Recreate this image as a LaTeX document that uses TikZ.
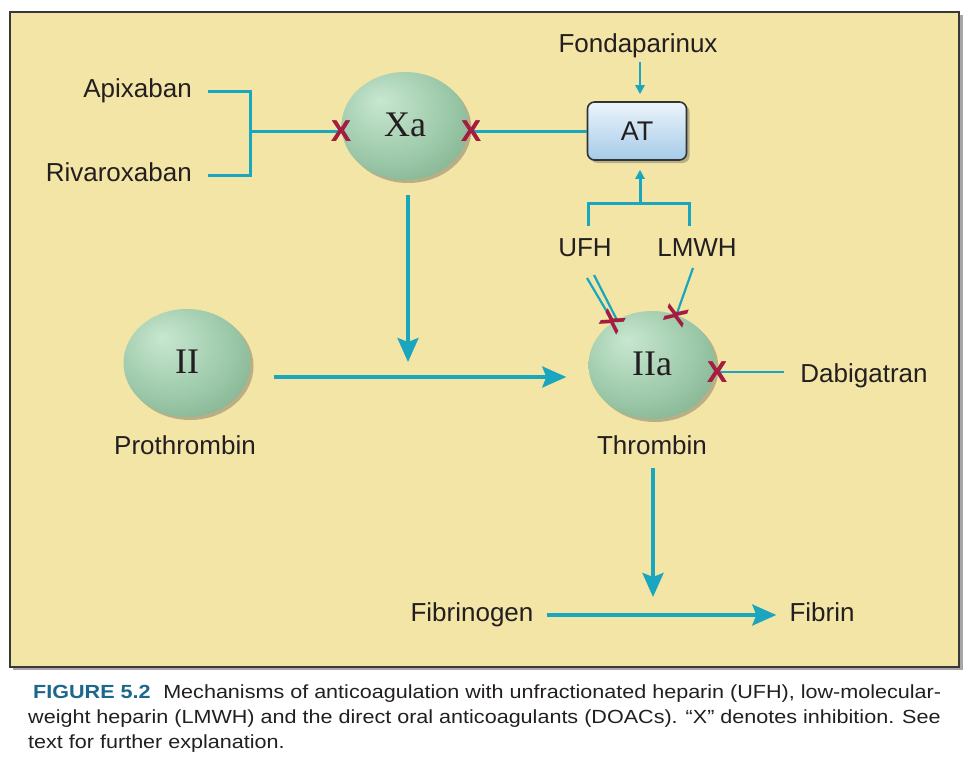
\documentclass[tikz,border=0pt]{standalone}
\usepackage{fontspec}
\setmainfont{Liberation Sans}
\newfontfamily\serifx{Liberation Serif}
\newfontfamily\capfont[FakeStretch=1.135]{Liberation Sans}
\usetikzlibrary{arrows.meta,shapes.geometric,shadows}
\definecolor{bgy}{RGB}{243,229,166}
\definecolor{tealc}{RGB}{26,166,190}
\definecolor{xred}{RGB}{165,28,65}
\definecolor{txt}{RGB}{35,31,32}
\definecolor{capblue}{RGB}{28,104,140}
\definecolor{gl}{RGB}{200,231,208}
\definecolor{gm}{RGB}{155,200,168}
\definecolor{gd}{RGB}{112,162,126}
\definecolor{atl}{RGB}{236,244,251}
\definecolor{atd}{RGB}{165,203,232}
\pgfdeclareradialshading{greenball}{\pgfpoint{-10bp}{12bp}}{color(0bp)=(gl); color(24bp)=(gm); color(46bp)=(gd); color(62bp)=(gd!85!black)}
\begin{document}
\begin{tikzpicture}[x=1pt,y=-1pt,
  lab/.style={font=\fontsize{26}{30}\selectfont, text=txt, inner sep=0pt, text height=18.7pt, text depth=5.5pt},
  enz/.style={ellipse, shading=greenball, inner sep=0pt, minimum width=127, minimum height=108,
     font=\serifx\fontsize{36}{40}\selectfont, text=txt, text height=24pt, text depth=4pt,
     drop shadow={shadow xshift=3pt, shadow yshift=-3pt, opacity=0.35, fill=black!70}},
  atbox/.style={rectangle, rounded corners=7, draw=black!80, line width=1.6, top color=atl, bottom color=atd,
     minimum width=99, minimum height=58, inner sep=0pt, font=\fontsize{27}{30}\selectfont, text=txt,
     drop shadow={shadow xshift=3pt, shadow yshift=-3pt, opacity=0.35, fill=black!70}},
  xm/.style={font=\bfseries\fontsize{30}{32}\selectfont, text=xred, inner sep=0pt},
  mainl/.style={draw=tealc, line width=3.6},
  medl/.style={draw=tealc, line width=3},
  thinl/.style={draw=tealc, line width=2.2},
  bigtip/.style={-{Stealth[length=24, width=21, inset=4]}},
  smalltip/.style={-{Triangle[length=9, width=9]}},
  captxt/.style={font=\capfont\fontsize{19}{24}\selectfont, text=txt, inner sep=0pt, anchor=base west}
]
\useasboundingbox (0,0) rectangle (973,760);
\fill[white] (0,0) rectangle (973,760);
% frame
\fill[black!35] (13,15) rectangle (963,670);
\draw[fill=bgy, draw=black!78, line width=2.6] (10,12) rectangle (959,667);

% enzymes
\node[enz] (xa) at (405,126) {Xa};
\node[enz] (ii) at (187,363) {II};
\node[enz] (iia) at (652,365) {IIa};
\node[atbox] (at) at (637,131) {AT};

% labels
\node[lab, anchor=east] (apix) at (192,91) {Apixaban};
\node[lab, anchor=east] (riva) at (192,175) {Rivaroxaban};
\node[lab] (fonda) at (638,46) {Fondaparinux};
\node[lab] (ufh) at (585,250) {UFH};
\node[lab] (lmwh) at (697,250) {LMWH};
\node[lab] (dabi) at (864,376) {Dabigatran};
\node[lab] (proth) at (185,448) {Prothrombin};
\node[lab] (thr) at (652,448) {Thrombin};
\node[lab] (fibg) at (472,615) {Fibrinogen};
\node[lab] (fib) at (822,615) {Fibrin};

% coordinates
\coordinate (brM) at (250,131);
\coordinate (bL) at (588,226);
\coordinate (bR) at (689,226);
\coordinate (bM) at (640,203);
\coordinate (atx) at (640,0);
\coordinate (meet) at (408,377);
\coordinate (fmeet) at (653,612);
\coordinate (u1) at (587,278);
\coordinate (u2) at (594,275);
\coordinate (l1) at (693,268);
\coordinate (dabl) at (784,372);
\coordinate (x3c) at (613,322);
\coordinate (x4c) at (676,316);

% Apixaban / Rivaroxaban bracket -> Xa
\node[xm] (x1) at (341,131) {X};
\node[xm] (x2) at (471,131) {X};
\draw[medl] ([xshift=16]apix.east) -| (brM) |- ([xshift=16]riva.east);
\draw[medl] (brM) -- (x1.center);
% Xa -- AT
\draw[medl] (x2.center) -- (at.west);
\node[xm] at (x1) {X};
\node[xm] at (x2) {X};
% Fondaparinux -> AT
\draw[thinl, smalltip, shorten <=4, shorten >=7] (fonda.south -| atx) -- (at.north -| atx);
% UFH / LMWH bracket -> AT
\draw[medl] (bL) |- (bM) -| (bR);
\draw[medl, smalltip, shorten >=9] (bM) -- (at.south -| atx);
% UFH double line, LMWH line
\draw[thinl] (u1) -- (x3c);
\draw[thinl] (u2) -- ([xshift=5]x3c);
\draw[thinl] (l1) -- (x4c);
\node[xm, rotate=60] (x3) at (x3c) {X};
\node[xm, rotate=70] (x4) at (x4c) {X};
% Dabigatran
\node[xm] (x5) at (717,372) {X};
\draw[thinl] (x5.center) -- (dabl);
\node[xm] at (x5) {X};
% main arrows
\draw[mainl, bigtip, shorten <=15, shorten >=15] (xa.south -| meet) -- (meet);
\draw[mainl, bigtip, shorten <=23, shorten >=22] ([yshift=-14]ii.east) -- ([yshift=-12]iia.west);
\draw[mainl, bigtip, shorten <=8, shorten >=15] (thr.south -| fmeet) -- (fmeet);
\draw[mainl, bigtip, shorten <=13, shorten >=13] (fibg.east) -- (fib.west);

% caption
\node[captxt] (c1) at (33,698) {{\bfseries\color{capblue}FIGURE 5.2}\hspace{0.35em} Mechanisms of anticoagulation with unfractionated heparin (UFH), low-molecular-};
\node[captxt] (c2) at (28,723) {weight heparin (LMWH) and the direct oral anticoagulants (DOACs). “X” denotes inhibition. See};
\node[captxt] (c3) at (28,748) {text for further explanation.};
\end{tikzpicture}
\end{document}
